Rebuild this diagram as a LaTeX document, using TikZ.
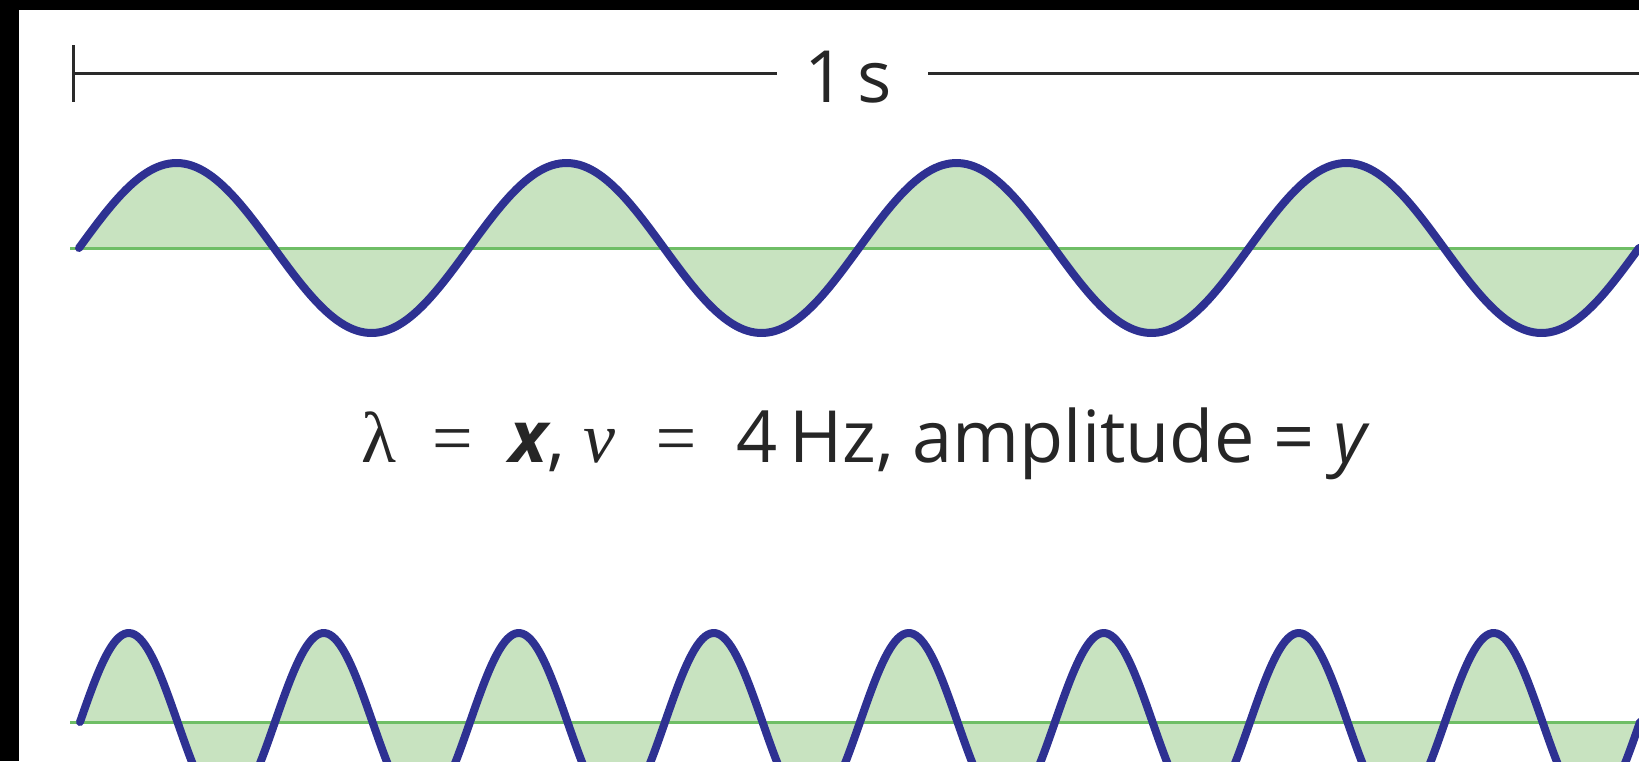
\documentclass[tikz,border=0pt]{standalone}
\usepackage{fontspec}
\setmainfont{Open Sans}
\newfontfamily\serifgr{Liberation Serif}
\definecolor{waveblue}{HTML}{2E3192}
\definecolor{wavefill}{HTML}{C8E3C0}
\definecolor{axisgreen}{HTML}{6FBE66}
\definecolor{bargray}{HTML}{2A2A2A}
\begin{document}
\begin{tikzpicture}[x=1pt,y=-1pt,
  wave/.style={line width=8pt, draw=waveblue, line join=round, line cap=round},
  fillarea/.style={fill=wavefill},
  axisline/.style={line width=3pt, draw=axisgreen},
  barline/.style={line width=3pt, draw=bargray},
  lbl/.style={anchor=base, inner sep=0pt, text=black!85, font=\fontsize{72}{80}\selectfont}]
\useasboundingbox (0,0) rectangle (1639,761);
\clip (0,0) rectangle (1639,761);
\fill[white] (0,0) rectangle (1639,761);
\fill[black] (0,0) rectangle (19,761);
\fill[black] (0,0) rectangle (1639,10);
% scale bar
\coordinate (tickT) at (73,45);
\coordinate (tickB) at (73,102);
\coordinate (barL) at (73,73);
\coordinate (gapL) at (777,73);
\coordinate (gapR) at (928,73);
\coordinate (barR) at (1639,73);
\node[lbl] (onesec) at (848,102) {1\,s};
\draw[barline] (tickT) -- (tickB);
\draw[barline] (barL) -- (gapL);
\draw[barline] (gapR) -- (barR);
% top wave
\fill[fillarea] (79,248) -- plot[domain=0:1560,samples=400] ({79+\x},{248-85*sin(\x/390*360)}) -- cycle;
\coordinate (axL1) at (70,248);
\coordinate (axR1) at (1639,248);
\draw[axisline] (axL1) -- (axR1);
\draw[wave] plot[domain=0:1560,samples=400] ({79+\x},{248-85*sin(\x/390*360)});
% formula
\node[lbl] (formula) at (864,462) {{\serifgr λ\ \ =\ \ }{\bfseries\itshape x},\ {\serifgr\itshape ν\ \ =\ \ }4\,Hz, amplitude = {\itshape y}};
% bottom wave
\fill[fillarea] (80,722) -- plot[domain=0:1560,samples=600] ({80+\x},{722-89*sin(\x/195*360)}) -- cycle;
\coordinate (axL2) at (70,722);
\coordinate (axR2) at (1639,722);
\draw[axisline] (axL2) -- (axR2);
\draw[wave] plot[domain=0:1560,samples=600] ({80+\x},{722-89*sin(\x/195*360)});
\end{tikzpicture}
\end{document}
